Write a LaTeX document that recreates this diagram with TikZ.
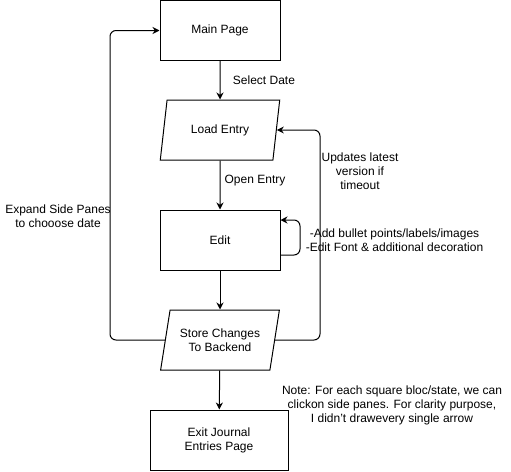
\documentclass[tikz,border=0pt]{standalone}
\usepackage{fontspec}
\setmainfont{Liberation Sans}
\usetikzlibrary{arrows.meta,shapes.geometric}
\tikzset{
	>={Stealth[length=7pt,width=7pt]},
	block/.style={
			draw,
			rectangle,
			minimum width=120pt,
			minimum height=60pt,
			inner sep=0pt,
			align=center
		},
	io/.style={
			draw,
			trapezium,
			trapezium left angle=71.57,
			trapezium right angle=108.43,
			trapezium stretches=true,
			minimum width=120pt,
			minimum height=60pt,
			inner sep=0pt,
			align=center
		},
	note/.style={align=center, inner sep=0pt},
	back/.style={->, rounded corners=6pt}
}
\begin{document}
\begin{tikzpicture}[x=1pt, y=-1pt, font=\fontsize{12}{14}\selectfont, line width=1pt]
	\useasboundingbox (0,0) rectangle (511,471);

	\node[block] at (220,30.5) (main) {Main Page};
	\node[io] at (220,130) (load) {Load Entry};
	\node[block] at (220,240) (edit) {Edit};
	\node[io] at (220,340) (store) {Store Changes\\To Backend};
	\node[block, minimum width=138pt] at (219,440) (exit) {Exit Journal\\Entries Page};

	\node[note] at (264,80) (select) {Select Date};
	\node[note] at (255,181) (open) {Open Entry};
	\node[note] at (394.5,240) (edits) {-Add bullet points/labels/images\\-Edit Font \& additional decoration};
	\node[note] at (58,216) (expand) {Expand Side Panes\\to chooose date};
	\node[note] at (360,171) (updates) {Updates latest\\version if\\timeout};
	\node[note] at (392,405) (remark) {Note: For each square bloc/state, we can\\clickon side panes. For clarity purpose,\\I didn't drawevery single arrow};

	\draw[->] (main) -- (load);
	\draw[->] (load) -- (edit);
	\draw[->] (edit) -- (store);
	\draw[->] (store) -- (exit);

	\draw[back] (edit.east |- 0,255) -- (300,255) -- (300,220) -- (edit.east |- 0,220);
	\draw[back] (store.180) -- (110,340) -- (110,30.5) -- (main.west);
	\draw[back] (store.0) -- (320,340) -- (320,130) -- (load.0);
\end{tikzpicture}
\end{document}
